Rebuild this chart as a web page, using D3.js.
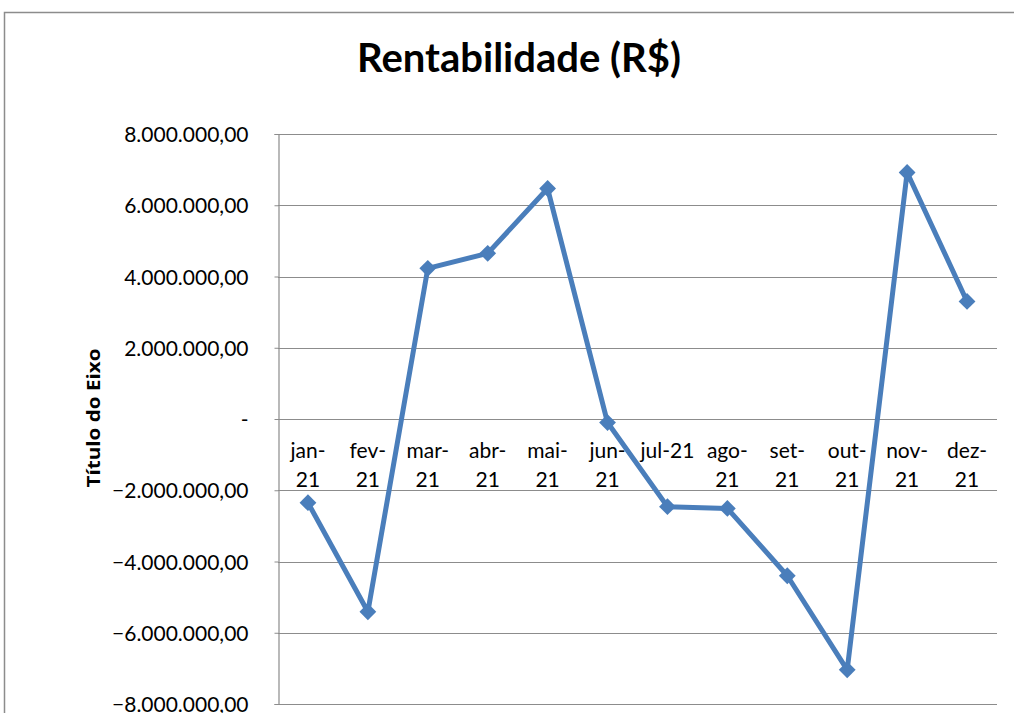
<!doctype html>
<html lang="pt">
<head>
<meta charset="UTF-8">
<title>Rentabilidade (R$)</title>
<style>
  body { margin: 0; background: #fff; }
  svg { display: block; font-family: Lato, "Open Sans", sans-serif; }
</style>
</head>
<body>
<script src="https://cdn.jsdelivr.net/npm/d3@7"></script>
<script>
// months and monthly result (R$)
var months = ["jan-21", "fev-21", "mar-21", "abr-21", "mai-21", "jun-21",
              "jul-21", "ago-21", "set-21", "out-21", "nov-21", "dez-21"];
// the category labels as Excel wrapped them
var monthLines = [["jan-", "21"], ["fev-", "21"], ["mar-", "21"], ["abr-", "21"],
                  ["mai-", "21"], ["jun-", "21"], ["jul-21"], ["ago-", "21"],
                  ["set-", "21"], ["out-", "21"], ["nov-", "21"], ["dez-", "21"]];
var rentab = [-2350000, -5410000, 4230000, 4650000, 6470000, -100000,
              -2460000, -2510000, -4400000, -7040000, 6920000, 3300000];
var yTicks = [-8000000, -6000000, -4000000, -2000000, 0, 2000000, 4000000, 6000000, 8000000];

var WIDTH = 1014, HEIGHT = 713;
var plotL = 278, plotR = 997, plotT = 134, plotB = 704;

var svg = d3.select("body").append("svg")
  .attr("width", WIDTH)
  .attr("height", HEIGHT);

// outer chart frame (runs off the right/bottom edge)
svg.append("rect")
  .attr("x", 4.5).attr("y", 12.5)
  .attr("width", 1100).attr("height", 800)
  .attr("fill", "none")
  .attr("stroke", "#8c8c8c")
  .attr("stroke-width", 1.5);

svg.append("text")
  .attr("x", 519).attr("y", 72)
  .attr("text-anchor", "middle")
  .attr("font-size", 40)
  .attr("font-weight", "bold")
  .text("Rentabilidade (R$)");

var x = d3.scaleBand().domain(months).range([plotL, plotR]);
var y = d3.scaleLinear().domain([-8000000, 8000000]).range([plotB, plotT]);

// pt-BR number format
var ptBR = d3.formatLocale({ decimal: ",", thousands: ".", grouping: [3], currency: ["R$", ""] });
var fmt = ptBR.format(",.2f");

// gridlines
svg.append("g").selectAll("line")
  .data(yTicks)
  .join("line")
  .attr("x1", plotL).attr("x2", plotR)
  .attr("y1", function(d) { return Math.round(y(d)) + 0.5; })
  .attr("y2", function(d) { return Math.round(y(d)) + 0.5; })
  .attr("stroke", "#8c8c8c")
  .attr("stroke-width", 1.2);

// value axis
var yAxis = d3.axisLeft(y)
  .tickValues(yTicks)
  .tickSizeOuter(0)
  .tickSize(4)
  .tickPadding(26)
  .tickFormat(function(d) { return d === 0 ? "-" : fmt(d); });

var ga = svg.append("g")
  .attr("transform", "translate(" + (plotL + 0.5) + ",0)")
  .call(yAxis);
ga.select(".domain").attr("stroke", "#8c8c8c").attr("stroke-width", 1.2);
ga.selectAll(".tick line").attr("stroke", "#8c8c8c");
ga.selectAll(".tick text")
  .attr("font-size", 21)
  .attr("font-family", "Lato, 'Open Sans', sans-serif")
  .attr("fill", "#000")
  .attr("dy", "0.36em");

// axis title
svg.append("text")
  .attr("transform", "translate(100,418) rotate(-90)")
  .attr("text-anchor", "middle")
  .attr("font-family", "'Open Sans', sans-serif")
  .attr("font-size", 18)
  .attr("font-weight", "bold")
  .attr("textLength", 139)
  .attr("lengthAdjust", "spacingAndGlyphs")
  .text("Título do Eixo");

// category labels just under the zero line
var gx = svg.append("g");
gx.selectAll("text")
  .data(months)
  .join("text")
  .attr("x", function(d) { return x(d) + x.bandwidth() / 2; })
  .attr("y", y(0) + 39)
  .attr("text-anchor", "middle")
  .attr("font-size", 21)
  .attr("fill", "#000")
  .each(function(d, i) {
    var t = d3.select(this), cx = +t.attr("x");
    monthLines[i].forEach(function(s, k) {
      t.append("tspan").attr("x", cx).attr("dy", k ? 29 : 0).text(s);
    });
  });

// line + markers
var line = d3.line()
  .x(function(d, i) { return x(months[i]) + x.bandwidth() / 2; })
  .y(function(d) { return y(d); });

svg.append("path")
  .datum(rentab)
  .attr("d", line)
  .attr("fill", "none")
  .attr("stroke", "#4a7ebb")
  .attr("stroke-width", 5)
  .attr("stroke-linejoin", "round");

svg.append("g").selectAll("path")
  .data(rentab)
  .join("path")
  .attr("transform", function(d, i) {
    return "translate(" + (x(months[i]) + x.bandwidth() / 2) + "," + y(d) + ")";
  })
  .attr("d", d3.symbol().type(d3.symbolDiamond2).size(180))
  .attr("fill", "#4a7ebb");
</script>
</body>
</html>
